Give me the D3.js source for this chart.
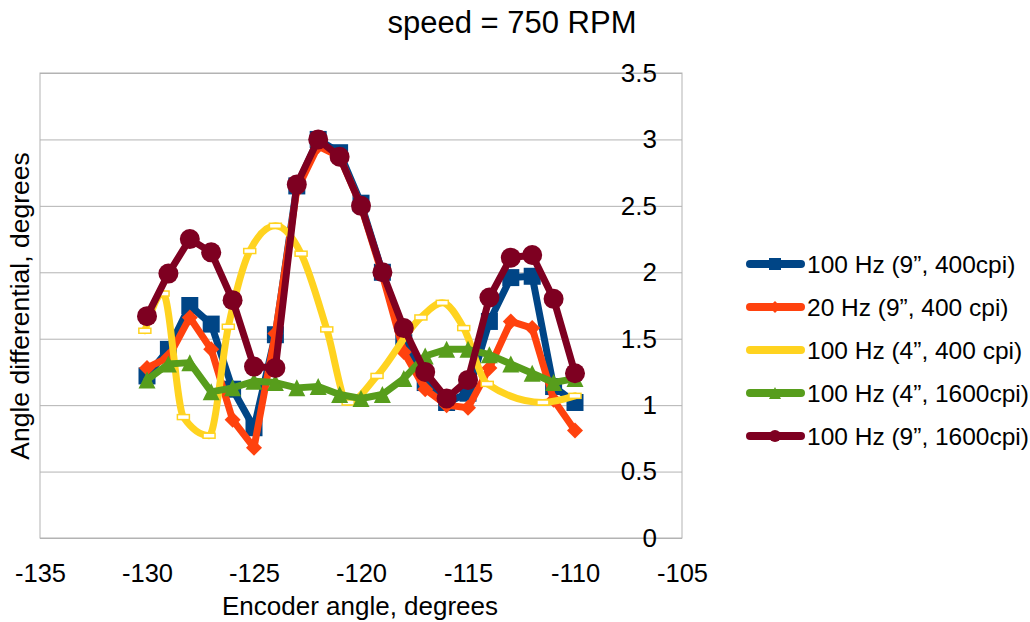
<!DOCTYPE html>
<html lang="en">
<head>
    <meta charset="UTF-8">
    <title>speed = 750 RPM</title>
    <style>
        body { margin: 0; background: #fff; }
        svg text { font-family: "Liberation Sans", Arial, sans-serif; fill: #000; }
        .grid line { stroke: #b3b3b3; stroke-width: 1px; }
        .grid path { display: none; }
    </style>
    <script src="https://d3js.org/d3.v7.min.js"></script>
</head>
<body>
<div id="chart"></div>
<script>
    // encoder angles shared by four of the series
    const angles = [-130, -129, -128, -127, -126, -125, -124, -123, -122, -121, -120,
                    -119, -118, -117, -116, -115, -114, -113, -112, -111, -110];

    const hz100_9_400 = [1.22, 1.42, 1.75, 1.61, 1.12, 0.83, 1.53, 2.65, 3.0, 2.9, 2.52,
                         2.0, 1.47, 1.17, 1.02, 1.09, 1.63, 1.96, 1.97, 1.14, 1.02];
    const hz20_9_400 = [1.28, 1.36, 1.66, 1.42, 0.89, 0.68, 1.54, 2.62, 2.95, 2.87, 2.5,
                        1.98, 1.4, 1.12, 1.0, 0.98, 1.28, 1.63, 1.58, 1.04, 0.81];
    const hz100_4_1600 = [1.19, 1.31, 1.32, 1.1, 1.13, 1.18, 1.17, 1.13, 1.14, 1.08, 1.05,
                          1.08, 1.2, 1.37, 1.42, 1.42, 1.38, 1.31, 1.24, 1.17, 1.2];
    const hz100_9_1600 = [1.67, 1.99, 2.25, 2.15, 1.79, 1.29, 1.28, 2.66, 3.0, 2.87, 2.5,
                          2.0, 1.58, 1.25, 1.05, 1.19, 1.81, 2.11, 2.13, 1.8, 1.24];

    // the 4" 400 cpi run was sampled at its own angles
    const yellowAngles = [-130.1, -129.25, -128.3, -127.1, -126.2, -125.2, -124.0, -122.8,
                          -121.6, -120.6, -119.25, -117.2, -116.2, -115.2, -114.1, -111.5, -110.0];
    const hz100_4_400 = [1.56, 1.84, 0.91, 0.77, 1.59, 2.16, 2.35, 2.14,
                         1.57, 1.02, 1.22, 1.66, 1.77, 1.58, 1.16, 1.02, 1.07];

    const xTicks = [-135, -130, -125, -120, -115, -110, -105];
    const yTicks = [0, 0.5, 1, 1.5, 2, 2.5, 3, 3.5];

    const series = [
        { name: "100 Hz (9\u201D, 400cpi)", color: "#004586", marker: "square", xs: angles, ys: hz100_9_400 },
        { name: "20 Hz (9\u201D, 400 cpi)", color: "#ff420e", marker: "diamond", xs: angles, ys: hz20_9_400 },
        { name: "100 Hz (4\u201D, 400 cpi)", color: "#ffd320", marker: "bar", xs: yellowAngles, ys: hz100_4_400, smooth: true },
        { name: "100 Hz (4\u201D, 1600cpi)", color: "#579d1c", marker: "triangle", xs: angles, ys: hz100_4_1600 },
        { name: "100 Hz (9\u201D, 1600cpi)", color: "#7e0021", marker: "circle", xs: angles, ys: hz100_9_1600 }
    ];

    const width = 1030, height = 622;
    const plotLeft = 40, plotRight = 682, plotTop = 73, plotBottom = 538;

    const svg = d3.select("#chart").append("svg")
        .attr("width", width)
        .attr("height", height);

    const x = d3.scaleLinear().domain([-135, -105]).range([plotLeft, plotRight]);
    const y = d3.scaleLinear().domain([0, 3.5]).range([plotBottom, plotTop]);

    // grid
    svg.append("g")
        .attr("class", "grid")
        .attr("transform", `translate(${plotLeft},0)`)
        .call(d3.axisRight(y).tickValues(yTicks).tickSize(plotRight - plotLeft).tickFormat(""));

    svg.append("rect")
        .attr("x", plotLeft).attr("y", plotTop)
        .attr("width", plotRight - plotLeft).attr("height", plotBottom - plotTop)
        .attr("fill", "none").attr("stroke", "#b3b3b3");

    // y tick labels sit inside the plot, right edge near 657
    const yAxis = svg.append("g")
        .attr("transform", `translate(657,0)`)
        .call(d3.axisLeft(y).tickValues(yTicks).tickSize(0).tickPadding(0)
            .tickFormat(d => String(d)));
    yAxis.select(".domain").remove();
    yAxis.selectAll("text").attr("font-size", 26).attr("font-family", null);

    const xAxis = svg.append("g")
        .attr("transform", `translate(0,${plotBottom})`)
        .call(d3.axisBottom(x).tickValues(xTicks).tickSize(0).tickPadding(26)
            .tickFormat(d => String(d)));
    xAxis.select(".domain").remove();
    xAxis.selectAll("text").attr("font-size", 25.5).attr("font-family", null);

    svg.append("text")
        .attr("x", 512).attr("y", 33)
        .attr("text-anchor", "middle")
        .attr("font-size", 31)
        .text("speed = 750 RPM");

    svg.append("text")
        .attr("x", 360).attr("y", 615)
        .attr("text-anchor", "middle")
        .attr("font-size", 26)
        .text("Encoder angle, degrees");

    svg.append("text")
        .attr("transform", "translate(29,306) rotate(-90)")
        .attr("text-anchor", "middle")
        .attr("font-size", 26.5)
        .text("Angle differential, degrees");

    function drawMarker(g, type, color, s) {
        if (type === "square") {
            g.append("rect").attr("x", -s / 2).attr("y", -s / 2).attr("width", s).attr("height", s)
                .attr("fill", color);
        } else if (type === "diamond") {
            const h = s / 2;
            g.append("path").attr("d", `M0,${-h}L${h},0L0,${h}L${-h},0Z`).attr("fill", color);
        } else if (type === "triangle") {
            const h = s / 2;
            g.append("path").attr("d", `M0,${-h}L${h},${h}L${-h},${h}Z`).attr("fill", color);
        } else if (type === "circle") {
            g.append("circle").attr("r", s / 2).attr("fill", color);
        } else if (type === "bar") {
            g.append("rect").attr("x", -6).attr("y", -2.5).attr("width", 12).attr("height", 5)
                .attr("fill", "#fff").attr("stroke", color).attr("stroke-width", 1.5);
        }
    }

    const markerSize = { square: 17, diamond: 16, triangle: 17, circle: 20, bar: 0 };

    const plot = svg.append("g");

    series.forEach(s => {
        const pts = s.xs.map((v, i) => [v, s.ys[i]]);
        const line = d3.line()
            .x(d => x(d[0]))
            .y(d => y(d[1]))
            .curve(s.smooth ? d3.curveMonotoneX : d3.curveLinear);

        const g = plot.append("g");
        g.append("path")
            .attr("d", line(pts))
            .attr("fill", "none")
            .attr("stroke", s.color)
            .attr("stroke-width", 7)
            .attr("stroke-linejoin", "round")
            .attr("stroke-linecap", "round");

        pts.forEach(p => {
            const m = g.append("g").attr("transform", `translate(${x(p[0])},${y(p[1])})`);
            drawMarker(m, s.marker, s.color, markerSize[s.marker]);
        });
    });

    // legend
    const legend = svg.append("g");
    series.forEach((s, i) => {
        const ly = 264 + i * 43;
        const row = legend.append("g").attr("transform", `translate(0,${ly})`);
        row.append("line")
            .attr("x1", 750).attr("x2", 801)
            .attr("y1", 0).attr("y2", 0)
            .attr("stroke", s.color)
            .attr("stroke-width", 8)
            .attr("stroke-linecap", "round");
        if (s.marker !== "bar") {
            const m = row.append("g").attr("transform", "translate(775,0)");
            drawMarker(m, s.marker, s.color, 12);
        }
        row.append("text")
            .attr("x", 807).attr("y", 0)
            .attr("dy", "0.35em")
            .attr("font-size", 24.5)
            .text(s.name);
    });
</script>
</body>
</html>
